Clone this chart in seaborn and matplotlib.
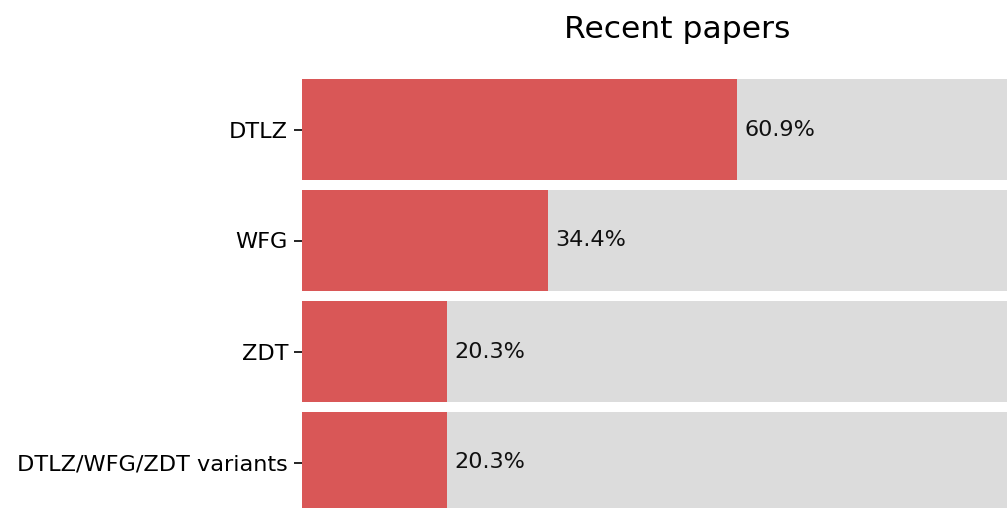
import matplotlib
matplotlib.use("Agg")
import matplotlib.pyplot as plt
import seaborn as sns
import pandas as pd

# Share of recent papers using each benchmark suite
categories = ["DTLZ", "WFG", "ZDT", "DTLZ/WFG/ZDT variants"]
shares = [60.9, 34.4, 20.3, 20.3]
full_scale = [100, 100, 100, 100]

df = pd.DataFrame({"suite": categories, "share": shares, "total": full_scale})

sns.set_theme(style="white")
plt.rcParams["font.family"] = ["DejaVu Sans"]

W, H = 1007, 508
fig = plt.figure(figsize=(W / 100, H / 100), dpi=100)
# axes spans past the right and bottom edges of the canvas
ax = fig.add_axes([302 / W, -10 / H, 750 / W, 444 / H])

sns.barplot(data=df, y="suite", x="total", orient="h", color="#dcdcdc",
            saturation=1, width=0.91, linewidth=0, ax=ax)
sns.barplot(data=df, y="suite", x="share", orient="h", color="#d95757",
            saturation=1, width=0.91, linewidth=0, ax=ax)

for i, v in enumerate(shares):
    ax.text(v + 1.0, i, f"{v}%", va="center", ha="left", fontsize=16.1,
            color="#111111")

ax.set_xlim(0, 105)
ax.set_ylim(3.5, -0.5)
ax.set_xlabel("")
ax.set_ylabel("")
ax.set_xticks([])
ax.tick_params(axis="y", left=True, length=6, width=1.2, pad=4,
               labelsize=16.1, colors="black")
for s in ax.spines.values():
    s.set_visible(False)
ax.set_title("Recent papers", fontsize=22.6, pad=26, color="black")

fig.savefig("out.png", dpi=100)
